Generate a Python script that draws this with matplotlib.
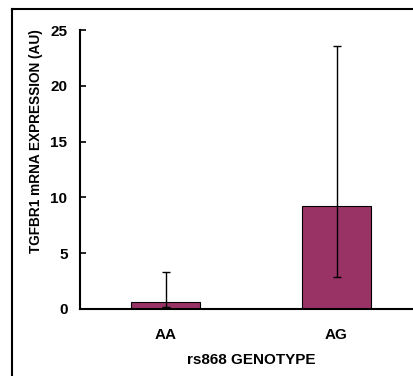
import matplotlib
matplotlib.use("Agg")
import matplotlib.pyplot as plt
from matplotlib.lines import Line2D

categories = ["AA", "AG"]
values = [0.6, 9.2]
err_low = [0.4, 6.3]
err_high = [2.7, 14.4]
yticks = [0, 5, 10, 15, 20, 25]

plt.rcParams['font.family'] = ['Liberation Sans', 'DejaVu Sans']
plt.rcParams['font.weight'] = 'bold'

W, H = 414, 376
fig = plt.figure(figsize=(W/100, H/100), dpi=100)
ax = fig.add_axes([80/W, 1-309/H, (422-80)/W, (309-30)/H])

x = [0.5, 1.5]
ax.bar(x, values, width=0.4, color='#993366', edgecolor='black', linewidth=0.8, zorder=2)
ax.errorbar(x, values, yerr=[err_low, err_high], fmt='none', ecolor='black',
            elinewidth=1.0, capsize=3, capthick=1.0, zorder=3)

ax.set_xlim(0, 2)
ax.set_ylim(0, 25)
ax.set_yticks(yticks)
ax.set_yticklabels([str(t) for t in yticks], fontsize=11, fontweight='bold')
ax.set_xticks(x)
ax.set_xticklabels(categories, fontsize=11, fontweight='bold')
ax.tick_params(axis='x', length=0, pad=14)
ax.tick_params(axis='y', direction='in', length=4.5, width=1.2, pad=9)
for s in ['top', 'right']:
    ax.spines[s].set_visible(False)
for s in ['left', 'bottom']:
    ax.spines[s].set_linewidth(1.5)
ax.set_xlabel("rs868 GENOTYPE", fontsize=11, fontweight='bold')
ax.xaxis.set_label_coords((251-80)/(422-80), -(360-309)/(309-30), transform=ax.transAxes)
ax.xaxis.label.set_verticalalignment('center')
ax.set_ylabel("TGFBR1 mRNA EXPRESSION (AU)", fontsize=9.8, fontweight='bold')
ax.yaxis.set_label_coords(-(80-36)/(422-80), (309-141)/(309-30), transform=ax.transAxes)
ax.yaxis.label.set_verticalalignment('center')

# outer chart frame (cropped on right and bottom)
fig.add_artist(Line2D([12.5/W, 12.5/W], [0, 1-8.5/H], transform=fig.transFigure, color='black', lw=1.5))
fig.add_artist(Line2D([12.5/W, 1], [1-8.5/H, 1-8.5/H], transform=fig.transFigure, color='black', lw=1.5))

fig.savefig("out.png", dpi=100)
